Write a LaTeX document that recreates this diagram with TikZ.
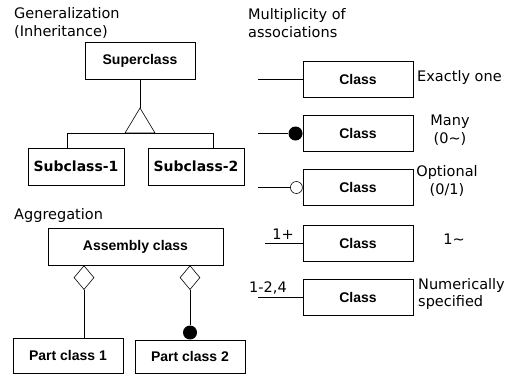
\documentclass[tikz,border=0pt]{standalone}
\usepackage{fontspec}
\setmainfont{DejaVu Sans}
\newfontfamily\arialfont{Liberation Sans}
\usetikzlibrary{shapes.geometric,positioning}

\begin{document}
\begin{tikzpicture}[
    x=1pt, y=-1pt,
    font=\fontsize{14.5}{17.5}\selectfont,
    classbox/.style={draw, line width=0.6pt, minimum width=110pt, minimum height=36pt, inner sep=0pt, font=\fontsize{14}{17}\selectfont\arialfont\bfseries},
    subbox/.style={classbox, minimum width=96pt, minimum height=37pt, font=\fontsize{14}{17}\selectfont\bfseries},
    lbl/.style={align=center, inner sep=0pt},
    dotfull/.style={circle, fill, inner sep=0pt, minimum size=14pt},
    dotopen/.style={circle, draw, fill=white, line width=0.6pt, inner sep=0pt, minimum size=12pt},
    aggdiamond/.style={diamond, draw, line width=0.6pt, inner sep=0pt, minimum width=20pt, minimum height=24pt},
    link/.style={line width=0.6pt}
]
    \useasboundingbox (0,0) rectangle (510,375);

    % Titres
    \node[lbl, align=left, anchor=west] (t_gen) at (14,23) {Generalization\\(Inheritance)};
    \node[lbl, align=left, anchor=west] (t_mult) at (248,23) {Multiplicity of\\associations};
    \node[lbl, anchor=west] (t_agg) at (14,215) {Aggregation};

    % Generalisation
    \node[classbox, minimum height=37pt] (super) at (140,60.5) {Superclass};
    \node[subbox] (sub1) at (76,166.5) {Subclass-1};
    \node[subbox] (sub2) at (196,166.5) {Subclass-2};
    \coordinate (apex) at (140,108);
    \coordinate (barL) at (67,133);
    \coordinate (barR) at (213,133);
    \draw[link] (super.south) -- (apex);
    \draw[link] (apex) -- ++(-15,25) -- ++(30,0) -- cycle;
    \draw[link] (sub1.north -| barL) -- (barL) -- (barR) -- (sub2.north -| barR);

    % Multiplicites
    \node[classbox] (cls_one) at (358,79) {Class};
    \node[classbox] (cls_many) at (358,133.5) {Class};
    \node[classbox] (cls_opt) at (358,187.5) {Class};
    \node[classbox] (cls_plus) at (358,243) {Class};
    \node[classbox] (cls_num) at (358,297.5) {Class};

    \coordinate (s_one) at (258,79);
    \coordinate (s_many) at (258,133.5);
    \coordinate (s_opt) at (258,187.5);
    \coordinate (s_plus) at (265,243);
    \coordinate (s_num) at (258,297.5);

    \node[dotfull, anchor=east] (dot_many) at (cls_many.west) {};
    \node[dotopen, anchor=east] (dot_opt) at (cls_opt.west) {};

    \draw[link] (s_one) -- (cls_one.west);
    \draw[link] (s_many) -- (dot_many.west);
    \draw[link] (s_opt) -- (dot_opt.west);
    \draw[link] (s_plus) -- (cls_plus.west);
    \draw[link] (s_num) -- (cls_num.west);

    \node[lbl, anchor=south] (n_plus) at (283,240) {1+};
    \node[lbl, anchor=south] (n_num) at (268,294) {1-2,4};

    \node[lbl, anchor=west] (l_one) at (417,77) {Exactly one};
    \node[lbl] (l_many) at (450,130) {Many\\(0\textasciitilde)};
    \node[lbl] (l_opt) at (447,181) {Optional\\(0/1)};
    \node[lbl] (l_plus) at (454,239) {1\textasciitilde};
    \node[lbl, align=left, anchor=west] (l_num) at (418,294) {Numerically\\specified};

    % Agregation
    \node[classbox, minimum width=175pt, minimum height=37pt] (assembly) at (135.5,246.5) {Assembly class};
    \node[classbox, minimum height=35pt] (part1) at (68,355.5) {Part class 1};
    \node[classbox, minimum height=33pt] (part2) at (190,356.5) {Part class 2};
    \node[aggdiamond, anchor=north] (dia1) at (assembly.south -| 84,0) {};
    \node[aggdiamond, anchor=north] (dia2) at (assembly.south -| 190,0) {};
    \node[dotfull, anchor=south] (dot_part) at (part2.north) {};
    \draw[link] (dia1.south) -- (dia1.south |- part1.north);
    \draw[link] (dia2.south) -- (dot_part.north);

\end{tikzpicture}
\end{document}
